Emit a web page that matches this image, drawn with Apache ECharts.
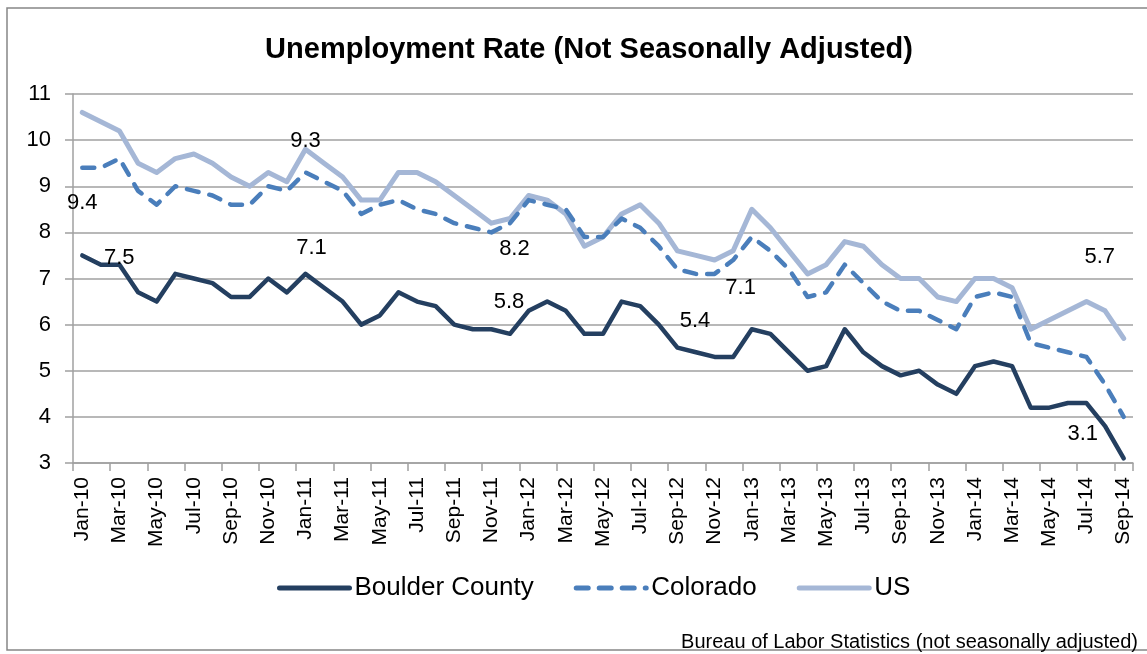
<!DOCTYPE html>
<html>
<head>
<meta charset="utf-8">
<script src="https://cdn.jsdelivr.net/npm/echarts@6/dist/echarts.min.js"></script>
<style>
  html, body { margin: 0; padding: 0; background: #fff; }
  #main { width: 1147px; height: 654px; }
</style>
</head>
<body>
<div id="main"></div>
<script>
// monthly categories Jan-10 .. Sep-14
var months = ['Jan-10','Feb-10','Mar-10','Apr-10','May-10','Jun-10','Jul-10','Aug-10','Sep-10','Oct-10','Nov-10','Dec-10',
  'Jan-11','Feb-11','Mar-11','Apr-11','May-11','Jun-11','Jul-11','Aug-11','Sep-11','Oct-11','Nov-11','Dec-11',
  'Jan-12','Feb-12','Mar-12','Apr-12','May-12','Jun-12','Jul-12','Aug-12','Sep-12','Oct-12','Nov-12','Dec-12',
  'Jan-13','Feb-13','Mar-13','Apr-13','May-13','Jun-13','Jul-13','Aug-13','Sep-13','Oct-13','Nov-13','Dec-13',
  'Jan-14','Feb-14','Mar-14','Apr-14','May-14','Jun-14','Jul-14','Aug-14','Sep-14'];

var boulder = [7.5,7.3,7.3,6.7,6.5,7.1,7.0,6.9,6.6,6.6,7.0,6.7,
  7.1,6.8,6.5,6.0,6.2,6.7,6.5,6.4,6.0,5.9,5.9,5.8,
  6.3,6.5,6.3,5.8,5.8,6.5,6.4,6.0,5.5,5.4,5.3,5.3,
  5.9,5.8,5.4,5.0,5.1,5.9,5.4,5.1,4.9,5.0,4.7,4.5,
  5.1,5.2,5.1,4.2,4.2,4.3,4.3,3.8,3.1];

var colorado = [9.4,9.4,9.6,8.9,8.6,9.0,8.9,8.8,8.6,8.6,9.0,8.9,
  9.3,9.1,8.9,8.4,8.6,8.7,8.5,8.4,8.2,8.1,8.0,8.2,
  8.7,8.6,8.5,7.9,7.9,8.3,8.1,7.7,7.2,7.1,7.1,7.4,
  7.9,7.6,7.2,6.6,6.7,7.3,6.9,6.5,6.3,6.3,6.1,5.9,
  6.6,6.7,6.6,5.6,5.5,5.4,5.3,4.7,4.0];

var us = [10.6,10.4,10.2,9.5,9.3,9.6,9.7,9.5,9.2,9.0,9.3,9.1,
  9.8,9.5,9.2,8.7,8.7,9.3,9.3,9.1,8.8,8.5,8.2,8.3,
  8.8,8.7,8.4,7.7,7.9,8.4,8.6,8.2,7.6,7.5,7.4,7.6,
  8.5,8.1,7.6,7.1,7.3,7.8,7.7,7.3,7.0,7.0,6.6,6.5,
  7.0,7.0,6.8,5.9,6.1,6.3,6.5,6.3,5.7];

// which points carry a value label, and where the label sits from the point
var boulderLabels = { 0: [37, 2], 12: [6, -26], 23: [-1, -32], 33: [-1, -31], 56: [-41, -24] };
var coloradoLabels = { 0: [0, 35], 12: [0, -31], 34: [26, 14] };
var usLabels = { 22: [23, 26], 56: [-24, -82] };

var font = "'Liberation Sans', Arial, sans-serif";

function withLabels(values, labels) {
  return values.map(function (v, i) {
    if (!labels[i]) return v;
    return {
      value: v,
      label: {
        show: true,
        position: 'inside',
        offset: labels[i],
        formatter: '{c}',
        color: '#000',
        fontSize: 22,
        fontFamily: font
      }
    };
  });
}

var myChart = echarts.init(document.getElementById('main'));

var option = {
  backgroundColor: '#fff',
  animation: false,
  title: [
    {
      text: 'Unemployment Rate (Not Seasonally Adjusted)',
      left: 584,
      top: 30,
      textAlign: 'center',
      textStyle: { fontFamily: font, fontWeight: 'bold', fontSize: 29, color: '#000' }
    },
    {
      text: 'Bureau of Labor Statistics (not seasonally adjusted)',
      right: 4,
      top: 627,
      textStyle: { fontFamily: font, fontWeight: 'normal', fontSize: 20, color: '#000' }
    }
  ],
  graphic: [{
    type: 'rect',
    shape: { x: 7, y: 8, width: 1160, height: 642 },
    style: { fill: 'none', stroke: '#868686', lineWidth: 1.5 },
    silent: true
  }],
  legend: {
    left: 272,
    top: 570,
    itemWidth: 70,
    itemHeight: 14,
    itemGap: 40,
    itemStyle: { opacity: 0 },
    lineStyle: { width: 5 },
    textStyle: { fontFamily: font, fontSize: 26, color: '#000' },
    data: ['Boulder County', 'Colorado', 'US']
  },
  grid: { left: 73, right: 14, top: 94, bottom: 191, containLabel: false },
  xAxis: {
    type: 'category',
    data: months,
    boundaryGap: true,
    axisLine: { show: true, lineStyle: { color: '#a0a0a0', width: 1.5 } },
    axisTick: { show: true, interval: 1, length: 8, lineStyle: { color: '#a0a0a0', width: 1.5 } },
    axisLabel: { interval: 1, rotate: 90, margin: 14, fontFamily: font, fontSize: 21, color: '#000' },
    splitLine: { show: false }
  },
  yAxis: {
    type: 'value',
    min: 3,
    max: 11,
    interval: 1,
    axisLine: { show: true, lineStyle: { color: '#a0a0a0', width: 1.5 } },
    axisTick: { show: true, length: 8, lineStyle: { color: '#a0a0a0', width: 1.5 } },
    axisLabel: { margin: 22, fontFamily: font, fontSize: 22, color: '#000' },
    splitLine: { show: true, lineStyle: { color: '#a0a0a0', width: 1.5 } }
  },
  series: [
    {
      name: 'Boulder County',
      type: 'line',
      data: withLabels(boulder, boulderLabels),
      symbol: 'circle',
      symbolSize: 0,
      showSymbol: true,
      color: '#243f60',
      lineStyle: { color: '#243f60', width: 4.5, cap: 'round', join: 'round' },
      z: 4
    },
    {
      name: 'Colorado',
      type: 'line',
      data: withLabels(colorado, coloradoLabels),
      symbol: 'circle',
      symbolSize: 0,
      showSymbol: true,
      color: '#4a7ebb',
      lineStyle: { color: '#4a7ebb', width: 4.5, type: [12, 11], cap: 'round', join: 'round' },
      z: 3
    },
    {
      name: 'US',
      type: 'line',
      data: withLabels(us, usLabels),
      symbol: 'circle',
      symbolSize: 0,
      showSymbol: true,
      color: '#a5b7d6',
      lineStyle: { color: '#a5b7d6', width: 5, cap: 'round', join: 'round' },
      z: 2
    }
  ]
};

myChart.setOption(option);
</script>
</body>
</html>
